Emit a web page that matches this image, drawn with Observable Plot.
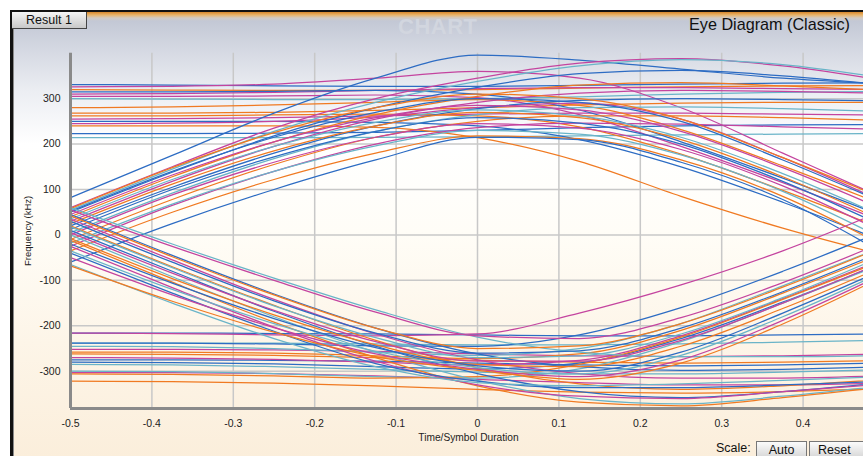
<!DOCTYPE html>
<html><head><meta charset="utf-8">
<script src="https://cdn.jsdelivr.net/npm/d3@7"></script>
<script src="https://cdn.jsdelivr.net/npm/@observablehq/plot@0.6"></script>
<style>
html,body{margin:0;padding:0;width:863px;height:456px;overflow:hidden;background:#fff;font-family:"Liberation Sans",Arial,sans-serif;}
#wrap{position:relative;width:863px;height:456px;overflow:hidden;}
#panel{position:absolute;left:10px;top:10px;width:880px;height:470px;border-left:3px solid #111;border-top:2px solid #111;border-radius:0 0 0 10px;box-sizing:border-box;box-shadow:inset 1px 0 0 #8a8a8a;
background:linear-gradient(to bottom,#d8872a 0px,#e9b56c 3px,#d2cbc4 6px,#c3c8d5 9px,#d3d7e1 35px,#eceef3 80px,#ffffff 132px,#fffdf7 220px,#fdf5e8 330px,#fbeedb 446px);}
#tab{position:absolute;left:12px;top:12px;width:74px;height:16px;background:linear-gradient(#f5f5f5,#c8c8c8);border-right:1px solid #444;border-bottom:1px solid #444;font-size:12.5px;line-height:16px;text-align:center;color:#111;}
#title{position:absolute;right:13px;top:15px;font-size:16.2px;color:#111;}
#wm{position:absolute;left:398px;top:14px;font-size:22px;font-weight:bold;color:#d2d6df;letter-spacing:0.5px;}
#scale{position:absolute;left:716px;top:441px;font-size:12.5px;color:#111;}
.btn{position:absolute;top:441px;height:17px;background:linear-gradient(#fbfbfb,#d8d8d8);border:1px solid #777;box-sizing:border-box;font-size:12.5px;line-height:16px;text-align:center;color:#111;}
#plot{position:absolute;left:0;top:0;}
</style></head>
<body><div id="wrap">
<div id="panel"></div>
<div id="wm">CHART</div>
<div id="tab">Result 1</div>
<div id="title">Eye Diagram (Classic)</div>
<div id="plot"></div>
<div id="scale">Scale:</div>
<div class="btn" style="left:756px;width:51px;">Auto</div>
<div class="btn" style="left:809px;width:60px;text-align:left;padding-left:8px;">Reset</div>
</div>
<script>
// sample positions (time / symbol duration)
const xGrid = [-0.5, -0.375, -0.25, -0.125, 0, 0.125, 0.25, 0.375, 0.5];
const xTicks = [-0.5, -0.4, -0.3, -0.2, -0.1, 0, 0.1, 0.2, 0.3, 0.4];
const yTicks = [-300, -200, -100, 0, 100, 200, 300];
const xDomain = [-0.5, 0.4742];
const yDomain = [-382, 400];

// upper-symbol traces (kHz)
const upperTraces = [
  [331,330,328,327,327,329,332,334,335],
  [320,319,318,318,320,323,326,328,329],
  [310,311,314,318,322,324,324,322,320],
  [300,299,298,298,300,304,310,314,316],
  [268,268,270,274,280,286,290,292,292],
  [255,256,258,262,266,268,268,266,264],
  [223,223,224,226,230,236,240,242,243],
  [214,214,214,215,216,218,220,222,223],
  [326,327,332,345,360,345,280,180,80],
  [315,315,316,318,310,275,205,125,40],
  [305,305,306,308,302,265,195,115,28],
  [280,282,286,292,298,285,232,152,65],
  [262,262,264,266,262,238,178,98,12],
  [250,250,250,248,240,210,150,72,-15],
  [245,246,250,260,280,290,255,170,72],
  [240,240,240,237,214,162,85,15,-45],
  [82,175,268,345,396,385,365,345,332],
  [60,150,235,300,345,378,388,372,340],
  [55,145,228,292,338,372,386,375,345],
  [50,138,218,280,325,355,362,350,330],
  [40,128,205,265,305,330,335,328,318],
  [30,118,195,255,292,312,318,316,312],
  [20,105,180,240,278,296,300,298,295],
  [5,92,168,228,265,280,282,278,272],
  [-10,78,155,215,250,262,262,258,252],
  [-25,65,140,200,236,246,244,238,232],
  [58,148,225,280,310,300,255,170,80],
  [52,140,215,270,300,292,250,165,70],
  [45,132,205,258,285,275,228,148,55],
  [35,122,195,248,275,262,215,135,40],
  [25,112,185,240,270,258,210,128,30],
  [12,100,172,228,258,246,200,118,18],
  [0,88,160,215,245,235,188,108,5],
  [-18,68,140,196,230,222,176,96,-10],
  [-35,50,122,180,218,212,165,85,-25],
  [-60,25,100,165,215,210,160,78,-42]
];
const upperColors = ["b","o","m","t","o","m","b","t","m","b","m","o","o","b","m","o","b","m","t","b","o","m","b","t","o","m","o","b","m","t","o","b","m","t","o","b"];

// lower-symbol traces (kHz)
const lowerTraces = [
  [-216,-216,-217,-218,-220,-222,-222,-220,-218],
  [-238,-238,-238,-240,-242,-242,-240,-236,-232],
  [-252,-252,-253,-256,-262,-266,-268,-266,-262],
  [-262,-263,-265,-270,-276,-280,-282,-280,-276],
  [-275,-275,-276,-278,-282,-286,-288,-286,-282],
  [-285,-286,-290,-296,-302,-306,-306,-302,-296],
  [-303,-303,-305,-310,-318,-325,-330,-330,-326],
  [-322,-323,-326,-332,-340,-346,-348,-345,-338],
  [-216,-217,-220,-222,-218,-172,-110,-35,55],
  [-238,-238,-240,-244,-245,-220,-160,-80,10],
  [-245,-246,-250,-258,-265,-250,-195,-112,-25],
  [-258,-258,-260,-266,-272,-262,-210,-128,-40],
  [-270,-271,-274,-280,-286,-276,-222,-140,-52],
  [-280,-281,-284,-290,-295,-282,-228,-148,-60],
  [-300,-301,-305,-312,-315,-295,-235,-150,-62],
  [-306,-307,-310,-315,-312,-285,-225,-142,-55],
  [60,-20,-95,-165,-225,-258,-268,-268,-265],
  [45,-45,-130,-205,-262,-290,-298,-296,-290],
  [35,-55,-142,-218,-275,-305,-315,-315,-310],
  [20,-70,-155,-232,-292,-328,-340,-332,-318],
  [10,-80,-168,-245,-305,-345,-358,-345,-325],
  [0,-92,-180,-258,-320,-360,-372,-355,-332],
  [-12,-104,-192,-270,-332,-368,-376,-358,-335],
  [-25,-116,-203,-278,-330,-355,-360,-345,-328],
  [-40,-128,-212,-283,-322,-336,-336,-330,-322],
  [-65,-150,-228,-290,-325,-332,-328,-320,-312],
  [55,-25,-100,-170,-222,-228,-182,-105,-15],
  [42,-48,-132,-205,-250,-244,-195,-115,-25],
  [30,-60,-145,-216,-260,-255,-205,-125,-35],
  [18,-72,-156,-226,-270,-266,-218,-138,-45],
  [5,-84,-166,-235,-278,-278,-232,-150,-58],
  [-8,-96,-176,-242,-285,-290,-245,-162,-68],
  [-20,-106,-184,-248,-288,-300,-258,-172,-75],
  [-35,-120,-195,-256,-292,-306,-265,-180,-80],
  [-50,-132,-204,-262,-296,-312,-275,-188,-85],
  [-68,-146,-214,-268,-298,-318,-282,-196,-90]
];
const lowerColors = ["b","t","m","o","b","t","m","o","m","b","t","o","m","b","t","o","t","b","m","o","b","t","o","m","b","t","m","o","b","t","m","o","b","t","m","o"];

const palette = {b: "#2d6cc3", t: "#6ab4c8", o: "#f07a22", m: "#c4449f"};

const traces = upperTraces.concat(lowerTraces);
const colors = upperColors.concat(lowerColors);
const rows = [];
traces.forEach((vals, i) => vals.forEach((v, j) => rows.push({id: i, x: xGrid[j], y: v, c: palette[colors[i]]})));

const chart = Plot.plot({
  width: 863, height: 456,
  marginLeft: 70, marginRight: 0, marginTop: 52.7, marginBottom: 48,
  style: {background: "transparent", fontFamily: "'Liberation Sans', Arial, sans-serif", fontSize: "10px", color: "#222", overflow: "hidden"},
  x: {domain: xDomain, axis: null},
  y: {domain: yDomain, axis: null},
  color: {type: "identity"},
  marks: [
    Plot.gridX(xTicks, {stroke: "#c8c8c8", strokeOpacity: 1, strokeWidth: 1.5}),
    Plot.gridY(yTicks, {stroke: "#c8c8c8", strokeOpacity: 1, strokeWidth: 1.5}),
    Plot.line(rows, {x: "x", y: "y", z: "id", stroke: "c", curve: "monotone-x", strokeWidth: 1.25, clip: true}),
    Plot.ruleX([xDomain[0]], {stroke: "#8a8a8a", strokeWidth: 3}),
    Plot.ruleY([yDomain[0]], {stroke: "#8a8a8a", strokeWidth: 3}),
    Plot.axisX(xTicks, {tickSize: 0, tickPadding: 11, tickFormat: d => String(d), label: null, fontSize: 10.5}),
    Plot.axisY(yTicks, {tickSize: 0, tickPadding: 10, tickFormat: d => String(d), label: null, fontSize: 10.5}),
    Plot.text(["Frequency (kHz)"], {frameAnchor: "left", textAnchor: "middle", dx: -43, rotate: -90, fontSize: 9.5, fill: "#222"}),
    Plot.text(["Time/Symbol Duration"], {frameAnchor: "bottom", textAnchor: "middle", dx: 1.5, dy: 32, fontSize: 10.2, fill: "#222"})
  ]
});
document.getElementById("plot").appendChild(chart);
</script>
</body></html>
